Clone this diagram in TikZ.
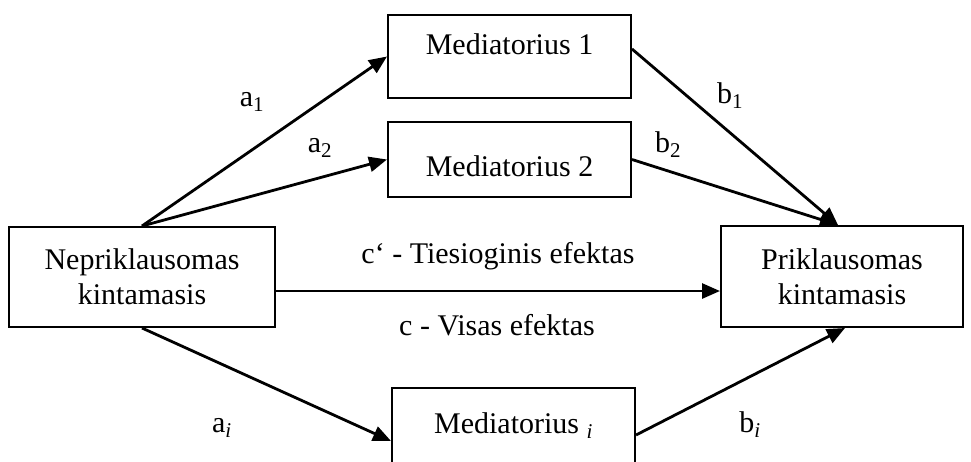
\documentclass[tikz,border=0pt]{standalone}
\usepackage{fontspec}
\setmainfont{Liberation Serif}
\usetikzlibrary{arrows.meta}
\begin{document}
\begin{tikzpicture}[x=1pt,y=-1pt,
  every node/.style={font=\fontsize{30}{35}\selectfont},
  box/.style={draw,line width=2pt,inner sep=0pt,align=center},
  lbl/.style={anchor=base,inner sep=0pt},
  conn/.style={line width=2.8pt,-{Triangle[length=18pt,width=15pt]}}]
\useasboundingbox (0,0) rectangle (971,461);
\clip (0,0) rectangle (971,461);
% boxes
\node[box,minimum width=266pt,minimum height=100pt] (nep) at (142,277) {Nepriklausomas\\kintamasis};
\node[box,minimum width=242pt,minimum height=101pt] (prik) at (842,276.5) {Priklausomas\\kintamasis};
\node[box,minimum width=243pt,text height=39pt,text depth=44pt,anchor=north west] (med1) at (387,14) {Mediatorius 1};
\node[box,minimum width=243pt,text height=54pt,text depth=21pt,anchor=north west] (med2) at (387,121) {Mediatorius 2};
\node[box,minimum width=243pt,text height=45pt,text depth=61pt,anchor=north west] (medi) at (391,387) {Mediatorius \textsubscript{\textit{i}}};
% connectors
\draw[conn] (nep.north) -- (med1.west);
\draw[conn] (nep.north) -- (med2.west);
\draw[conn] ([yshift=7.5pt]med1.east) -- ([xshift=-4pt]prik.north);
\draw[conn] (med2.east) -- ([xshift=-4pt]prik.north);
\draw[conn] ([yshift=-14pt]nep.east) -- ([yshift=-14.5pt]prik.west);
\draw[conn] (nep.south) -- (medi.west);
\draw[conn] ([yshift=6pt]medi.east) -- ([xshift=3pt]prik.south);
% labels
\node[lbl] (la1) at (252,106) {a\textsubscript{1}};
\node[lbl] (la2) at (320,152) {a\textsubscript{2}};
\node[lbl] (lb1) at (730,103) {b\textsubscript{1}};
\node[lbl] (lb2) at (668,152) {b\textsubscript{2}};
\node[lbl] (lai) at (222,432) {a\textsubscript{\textit{i}}};
\node[lbl] (lbi) at (750,432) {b\textsubscript{\textit{i}}};
\node[lbl] (lc1) at (498,263) {c‘ - Tiesioginis efektas};
\node[lbl] (lc2) at (497,335) {c - Visas efektas};
\end{tikzpicture}
\end{document}
